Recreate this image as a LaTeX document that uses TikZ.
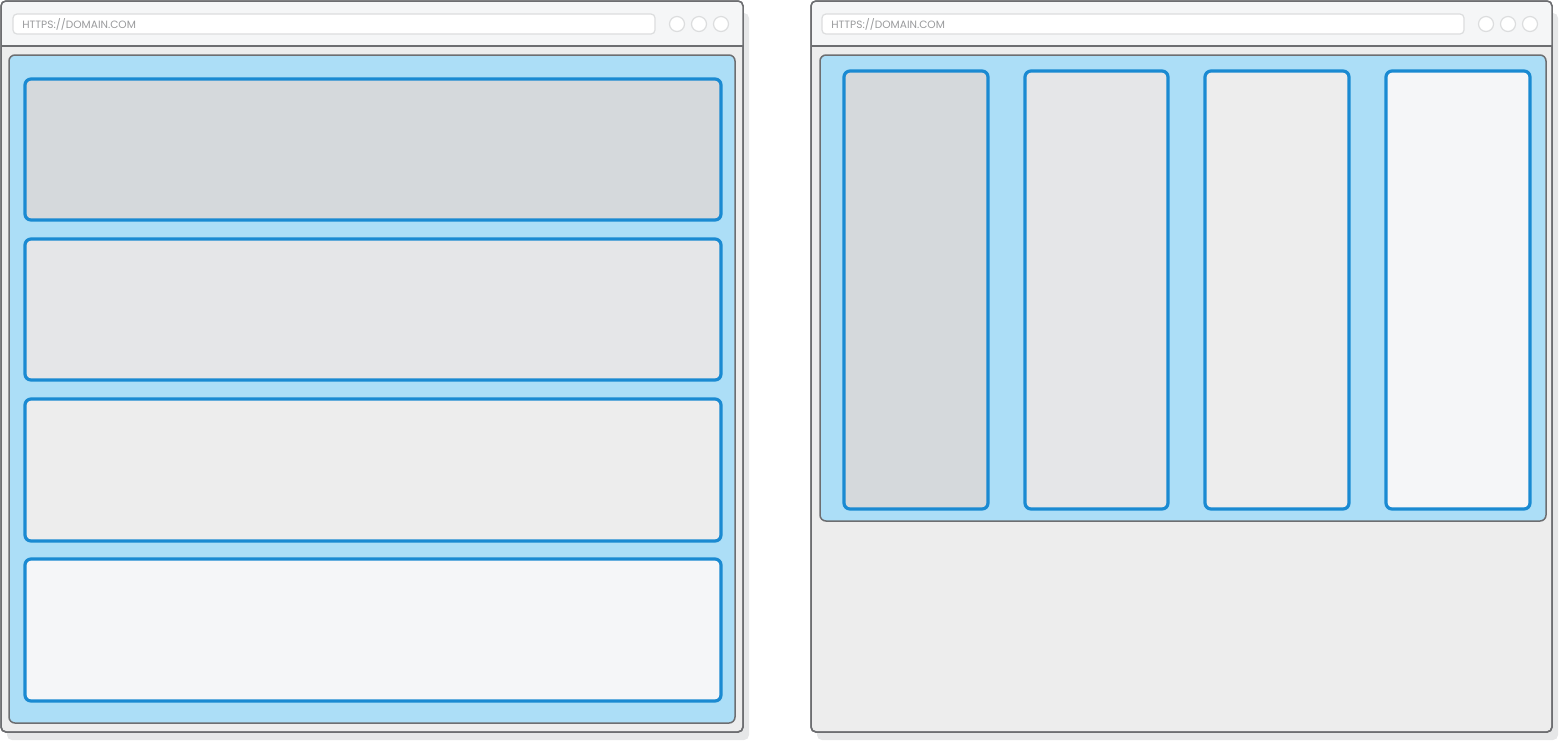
\documentclass[tikz,border=0pt]{standalone}
\usepackage{fontspec}
\newfontfamily\urlfont{Poppins}
\definecolor{frame}{HTML}{6D6E71}
\definecolor{shadow}{HTML}{E6E7E8}
\definecolor{header}{HTML}{F5F6F7}
\definecolor{pagebg}{HTML}{EDEDED}
\definecolor{urlborder}{HTML}{DCDDDE}
\definecolor{urltext}{HTML}{9A9B9D}
\definecolor{container}{HTML}{ACDEF7}
\definecolor{boxline}{HTML}{1A8AD2}
\definecolor{fillA}{HTML}{D5D9DC}
\definecolor{fillB}{HTML}{E5E6E8}
\definecolor{fillC}{HTML}{EDEDED}
\definecolor{fillD}{HTML}{F5F6F8}
\tikzset{
  browser/.style={draw=frame, line width=0.75pt, fill=pagebg, rounded corners=2.5pt},
  shadowbox/.style={fill=shadow, rounded corners=2.5pt},
  headerbar/.style={fill=header, rounded corners=2.5pt},
  urlbar/.style={draw=urlborder, line width=0.6pt, fill=white, rounded corners=2pt},
  dot/.style={draw=urlborder, line width=0.6pt, fill=white},
  containerbox/.style={draw=frame, line width=0.75pt, fill=container, rounded corners=3pt},
  panel/.style={draw=boxline, line width=1.6pt, rounded corners=3pt},
  urllabel/.style={text=urltext, font=\urlfont\fontsize{5.3}{6}\selectfont, anchor=west, inner sep=0pt}
}
\begin{document}
\begin{tikzpicture}[x=0.5pt,y=-0.5pt]
\useasboundingbox (0,0) rectangle (1559,741);
% ---------- left browser ----------
\fill[shadowbox] (7,13) rectangle (749,740);
\draw[browser] (1,1) rectangle (743,732);
\begin{scope}
\clip[rounded corners=2.5pt] (1,1) rectangle (743,732);
\fill[header] (1,1) rectangle (743,46);
\end{scope}
\draw[browser, fill=none] (1,1) rectangle (743,732);
\draw[frame, line width=0.75pt] (1,46) -- (743,46);
\draw[urlbar] (13,14) rectangle (655,34);
\node[urllabel] (urlL) at (22,24.5) {HTTPS://DOMAIN.COM};
\node[dot, circle, minimum size=7.5pt, inner sep=0pt] (c1L) at (677,24) {};
\node[dot, circle, minimum size=7.5pt, inner sep=0pt] (c2L) at (699,24) {};
\node[dot, circle, minimum size=7.5pt, inner sep=0pt] (c3L) at (721,24) {};
\draw[containerbox] (9,55) rectangle (735,723);
\draw[panel, fill=fillA] (25,79) rectangle (721,220);
\draw[panel, fill=fillB] (25,239) rectangle (721,380);
\draw[panel, fill=fillC] (25,399) rectangle (721,541);
\draw[panel, fill=fillD] (25,559) rectangle (721,701);
% ---------- right browser ----------
\fill[shadowbox] (817,13) rectangle (1558,740);
\draw[browser] (811,1) rectangle (1552,732);
\begin{scope}
\clip[rounded corners=2.5pt] (811,1) rectangle (1552,732);
\fill[header] (811,1) rectangle (1552,46);
\end{scope}
\draw[browser, fill=none] (811,1) rectangle (1552,732);
\draw[frame, line width=0.75pt] (811,46) -- (1552,46);
\draw[urlbar] (822,14) rectangle (1464,34);
\node[urllabel] (urlR) at (831,24.5) {HTTPS://DOMAIN.COM};
\node[dot, circle, minimum size=7.5pt, inner sep=0pt] (c1R) at (1486,24) {};
\node[dot, circle, minimum size=7.5pt, inner sep=0pt] (c2R) at (1508,24) {};
\node[dot, circle, minimum size=7.5pt, inner sep=0pt] (c3R) at (1530,24) {};
\draw[containerbox] (820,55) rectangle (1546,521);
\draw[panel, fill=fillA] (844,71) rectangle (988,509);
\draw[panel, fill=fillB] (1025,71) rectangle (1168,509);
\draw[panel, fill=fillC] (1205,71) rectangle (1349,509);
\draw[panel, fill=fillD] (1386,71) rectangle (1530,509);
\end{tikzpicture}
\end{document}
